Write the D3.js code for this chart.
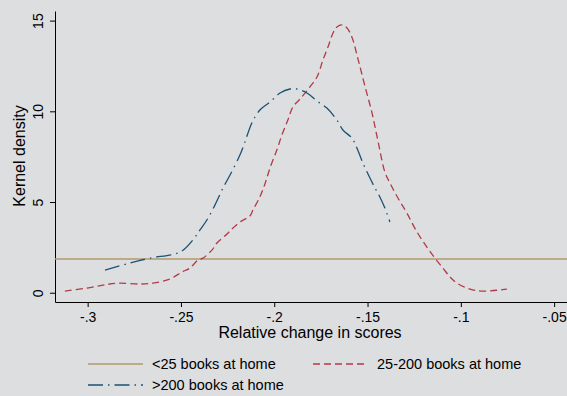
<!DOCTYPE html>
<html>
<head>
<meta charset="utf-8">
<script src="https://cdn.jsdelivr.net/npm/d3@7"></script>
<style>
  body { margin: 0; background: #dddee0; }
  text { font-family: "Liberation Sans", Arial, sans-serif; fill: #000; }
</style>
</head>
<body>
<svg id="chart" width="567" height="396"></svg>
<script>
// kernel density estimates
const midX = [-0.3122,-0.3004,-0.2918,-0.2838,-0.2720,-0.2650,-0.2559,-0.2495,-0.2452,-0.2409,-0.2382,-0.2334,-0.2307,-0.2253,-0.2221,-0.2184,-0.2157,-0.2130,-0.2114,-0.2077,-0.2050,-0.2023,-0.1986,-0.1959,-0.1927,-0.1900,-0.1862,-0.1809,-0.1771,-0.1739,-0.1712,-0.1685,-0.1664,-0.1637,-0.1610,-0.1584,-0.1551,-0.1514,-0.1476,-0.1444,-0.1407,-0.1380,-0.1337,-0.1289,-0.1235,-0.1182,-0.1139,-0.1096,-0.1058,-0.1021,-0.0951,-0.0882,-0.0753];
const midY = [0.09,0.26,0.42,0.53,0.48,0.53,0.76,1.14,1.36,1.80,1.91,2.35,2.74,3.24,3.57,3.90,4.06,4.23,4.56,5.28,5.99,6.87,7.87,8.69,9.52,10.24,10.68,11.34,11.89,12.83,13.54,14.32,14.65,14.76,14.59,14.10,12.88,11.39,9.91,8.36,6.65,6.05,5.22,4.39,3.35,2.52,1.91,1.36,0.87,0.53,0.20,0.09,0.20];

const highX = [-0.2907,-0.2773,-0.2666,-0.2505,-0.2436,-0.2398,-0.2361,-0.2318,-0.2275,-0.2237,-0.2184,-0.2157,-0.2120,-0.2077,-0.2023,-0.1969,-0.1916,-0.1878,-0.1825,-0.1771,-0.1718,-0.1664,-0.1632,-0.1584,-0.1557,-0.1525,-0.1487,-0.1460,-0.1434,-0.1407,-0.1380];
const highY = [1.25,1.64,1.91,2.24,2.91,3.46,4.01,4.83,5.77,6.49,7.59,8.31,9.36,10.07,10.51,11.01,11.23,11.23,11.01,10.57,10.18,9.52,8.97,8.53,7.98,7.15,6.32,5.77,5.28,4.67,3.90];

const lowLevel = 1.86;

const xTicks = [-0.3, -0.25, -0.2, -0.15, -0.1, -0.05];
const xTickLabels = ["-.3", "-.25", "-.2", "-.15", "-.1", "-.05"];
const yTicks = [0, 5, 10, 15];

const legendItems = ["<25 books at home", "25-200 books at home", ">200 books at home"];

const svg = d3.select("#chart");

const x = d3.scaleLinear().domain([-0.3175, -0.0431]).range([55, 567]);
const y = d3.scaleLinear().domain([-0.51, 15.53]).range([302, 11]);

const tan = "#b0996c", red = "#b23a48", blue = "#1a5275";

// axes
const xAxis = svg.append("g")
  .attr("transform", "translate(0,302)")
  .call(d3.axisBottom(x).tickValues(xTicks).tickFormat((d, i) => xTickLabels[i]).tickSize(5).tickSizeOuter(0));
xAxis.select(".domain").attr("stroke", "#000");
xAxis.selectAll("text").attr("font-size", 14).attr("y", 10).attr("dy", "0.71em");

const yAxis = svg.append("g")
  .attr("transform", "translate(55,0)")
  .call(d3.axisLeft(y).tickValues(yTicks).tickSize(5).tickSizeOuter(0));
yAxis.selectAll("text")
  .attr("font-size", 14)
  .attr("x", -12).attr("y", 0).attr("dy", 0)
  .attr("transform", "rotate(-90,-12,0)")
  .attr("text-anchor", "middle");

// axis titles
svg.append("text")
  .attr("x", 310).attr("y", 338)
  .attr("text-anchor", "middle").attr("font-size", 16)
  .text("Relative change in scores");
svg.append("text")
  .attr("transform", "translate(25,156) rotate(-90)")
  .attr("text-anchor", "middle").attr("font-size", 16)
  .text("Kernel density");

// curves
const line = d3.line().x(d => x(d[0])).y(d => y(d[1])).curve(d3.curveCatmullRom);

svg.append("path")
  .datum(x.domain().map(v => [v, lowLevel]))
  .attr("d", line).attr("fill", "none").attr("stroke", tan).attr("stroke-width", 1.6);

svg.append("path")
  .datum(midX.map((v, i) => [v, midY[i]]))
  .attr("d", line).attr("fill", "none").attr("stroke", red)
  .attr("stroke-width", 1.3).attr("stroke-dasharray", "7,4");

svg.append("path")
  .datum(highX.map((v, i) => [v, highY[i]]))
  .attr("d", line).attr("fill", "none").attr("stroke", blue)
  .attr("stroke-width", 1.3).attr("stroke-dasharray", "15,5,1.5,5");

// legend
const legendPos = [[88, 364], [313, 364], [88, 385]];
const legendStyle = [
  { c: tan, dash: null, w: 1.6 },
  { c: red, dash: "7,4", w: 1.3 },
  { c: blue, dash: "15,5,1.5,5", w: 1.3 }
];
legendItems.forEach((name, i) => {
  const g = svg.append("g").attr("transform", "translate(" + legendPos[i][0] + "," + legendPos[i][1] + ")");
  g.append("line").attr("x1", 0).attr("x2", 55).attr("y1", 0).attr("y2", 0)
    .attr("stroke", legendStyle[i].c).attr("stroke-width", legendStyle[i].w)
    .attr("stroke-dasharray", legendStyle[i].dash);
  g.append("text").attr("x", 64).attr("y", 5).attr("font-size", 14.5).text(name);
});
</script>
</body>
</html>
